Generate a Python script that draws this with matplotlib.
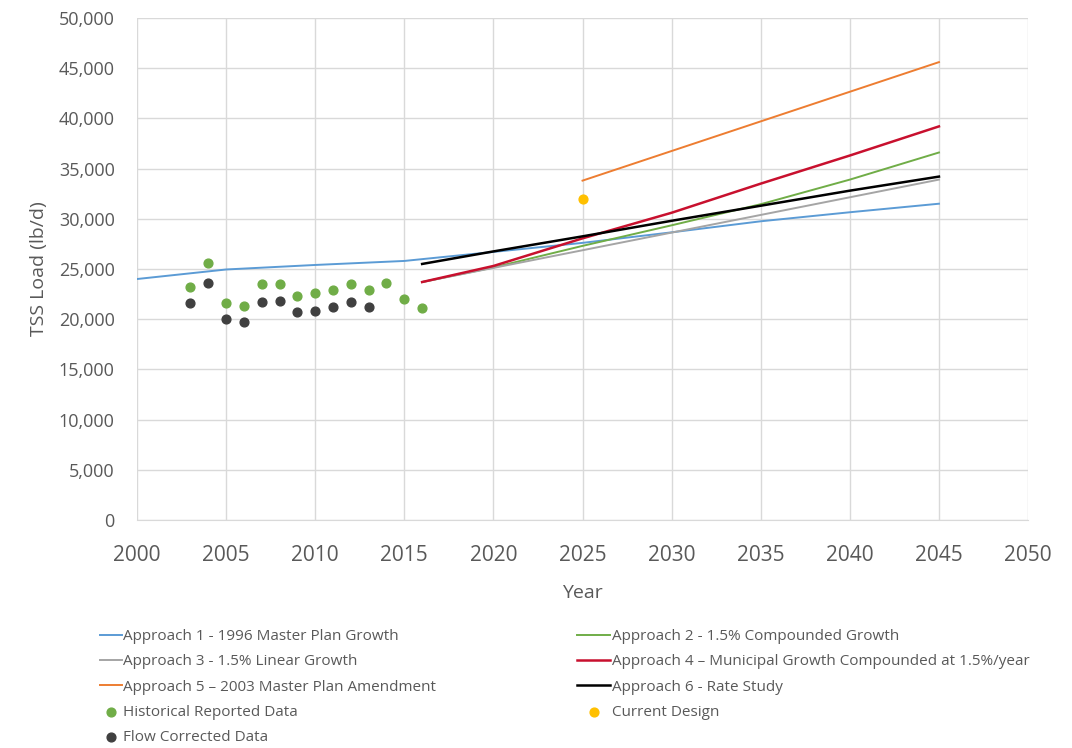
import matplotlib.pyplot as plt
from matplotlib.ticker import FuncFormatter

plt.rcParams['font.family'] = ['Open Sans', 'DejaVu Sans']

# historical data
hist_years = [2003, 2004, 2005, 2006, 2007, 2008, 2009, 2010, 2011, 2012, 2013, 2014, 2015, 2016]
hist_vals = [23200, 25600, 21650, 21300, 23500, 23550, 22350, 22600, 22900, 23500, 22900, 23650, 22000, 21100]
flow_years = [2003, 2004, 2005, 2006, 2007, 2008, 2009, 2010, 2011, 2012, 2013]
flow_vals = [21600, 23650, 20050, 19750, 21750, 21800, 20750, 20850, 21250, 21750, 21250]
design_year = [2025]
design_val = [32000]

# projections
a1_years = [2000, 2005, 2010, 2015, 2020, 2025, 2030, 2035, 2040, 2045]
a1_vals = [24000, 24950, 25400, 25800, 26700, 27600, 28650, 29750, 30650, 31500]
a2_years = [2016, 2020, 2025, 2030, 2035, 2040, 2045]
a2_vals = [23700, 25150, 27300, 29350, 31450, 33900, 36600]
a3_years = [2016, 2045]
a3_vals = [23700, 33900]
a4_years = [2016, 2020, 2025, 2030, 2035, 2040, 2045]
a4_vals = [23700, 25300, 28050, 30600, 33500, 36300, 39200]
a5_years = [2025, 2045]
a5_vals = [33800, 45600]
a6_years = [2016, 2020, 2025, 2030, 2035, 2040, 2045]
a6_vals = [25500, 26750, 28250, 29800, 31300, 32800, 34200]

txt = '#595959'
fig = plt.figure(figsize=(10.72, 7.48), dpi=100)
ax = fig.add_axes([0.1278, 0.3048, 0.8312, 0.6712])

l1, = ax.plot(a1_years, a1_vals, color='#5B9BD5', lw=1.4, label='Approach 1 - 1996 Master Plan Growth')
l2, = ax.plot(a2_years, a2_vals, color='#70AD47', lw=1.4, label='Approach 2 - 1.5% Compounded Growth')
l3, = ax.plot(a3_years, a3_vals, color='#A5A5A5', lw=1.4, label='Approach 3 - 1.5% Linear Growth')
l4, = ax.plot(a4_years, a4_vals, color='#C8102E', lw=1.8, label='Approach 4 \u2013 Municipal Growth Compounded at 1.5%/year')
l5, = ax.plot(a5_years, a5_vals, color='#ED7D31', lw=1.4, label='Approach 5 \u2013 2003 Master Plan Amendment')
l6, = ax.plot(a6_years, a6_vals, color='#000000', lw=1.8, label='Approach 6 - Rate Study')
s1 = ax.scatter(hist_years, hist_vals, s=40, color='#70AD47', zorder=3, label='Historical Reported Data')
s2 = ax.scatter(flow_years, flow_vals, s=40, color='#404040', zorder=3, label='Flow Corrected Data')
s3 = ax.scatter(design_year, design_val, s=40, color='#FFC000', zorder=3, label='Current Design')

ax.set_xlim(2000, 2050)
ax.set_ylim(0, 50000)
ax.set_xticks(range(2000, 2051, 5))
ax.set_yticks(range(0, 50001, 5000))
ax.yaxis.set_major_formatter(FuncFormatter(lambda v, p: f'{int(v):,}'))
ax.grid(True, color='#D9D9D9', lw=1)
ax.set_axisbelow(True)
for s in ['top', 'right', 'left']:
    ax.spines[s].set_visible(False)
ax.spines['bottom'].set_color('#D9D9D9')
ax.tick_params(axis='y', length=0, labelsize=13, colors=txt, pad=16)
ax.tick_params(axis='x', length=0, labelsize=15, colors=txt, pad=18)
ax.set_xlabel('Year', fontsize=14, color=txt, labelpad=13)
ax.set_ylabel('TSS Load (lb/d)', fontsize=14, color=txt, labelpad=8)

leg_kw = dict(frameon=False, fontsize=11, labelcolor=txt,
              handletextpad=0.1, labelspacing=0.67, borderaxespad=0, borderpad=0)
fig.legend(handles=[l1, l3, l5, s1, s2], loc='upper left', handlelength=1.45,
           bbox_to_anchor=(0.093, 0.159), **leg_kw)
fig.legend(handles=[l2, l4, l6, s3], loc='upper left', handlelength=2.2,
           bbox_to_anchor=(0.538, 0.159), **leg_kw)

plt.savefig('out.png')
